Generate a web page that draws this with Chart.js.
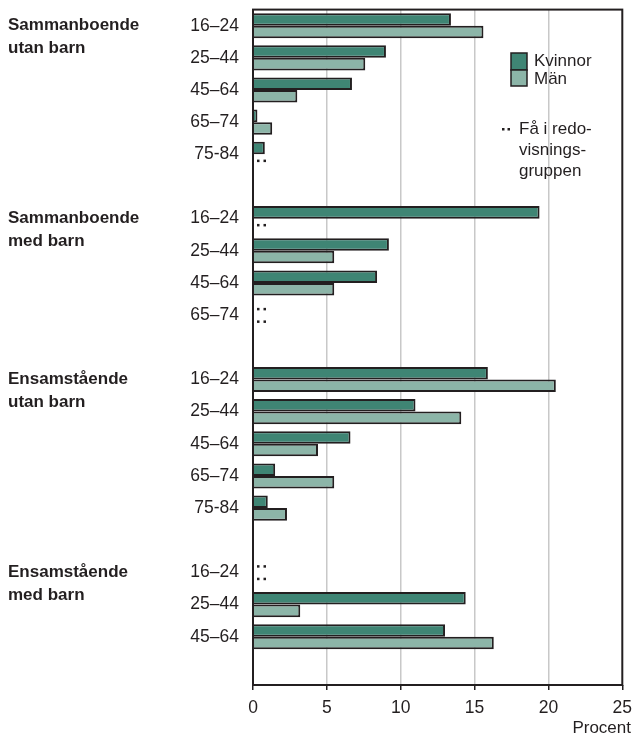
<!DOCTYPE html>
<html>
<head>
<meta charset="utf-8">
<script src="https://cdn.jsdelivr.net/npm/chart.js@4/dist/chart.umd.min.js"></script>
<style>
  body { margin: 0; background: #fff; }
  #wrap { width: 635px; height: 735px; position: relative; }
</style>
</head>
<body>
<div id="wrap"><canvas id="chart"></canvas></div>
<script>
// rows of the chart, top to bottom ('' = spacer row between groups)
const ageLabels = ['16–24', '25–44', '45–64', '65–74', '75-84', '',
  '16–24', '25–44', '45–64', '65–74', '',
  '16–24', '25–44', '45–64', '65–74', '75-84', '',
  '16–24', '25–44', '45–64', ''];

const groupNames = [
  ['Sammanboende', 'utan barn'],
  ['Sammanboende', 'med barn'],
  ['Ensamstående', 'utan barn'],
  ['Ensamstående', 'med barn']
];

// percent, null = "Få i redovisningsgruppen"
const kvinnor = [13.4, 9.0, 6.7, 0.3, 0.8, null,
  19.4, 9.2, 8.4, null, null,
  15.9, 11.0, 6.6, 1.5, 1.0, null,
  null, 14.4, 13.0, null];
const man = [15.6, 7.6, 3.0, 1.3, null, null,
  null, 5.5, 5.5, null, null,
  20.5, 14.1, 4.4, 5.5, 2.3, null,
  null, 3.2, 16.3, null];

const xTicks = [0, 5, 10, 15, 20, 25];

const FONT = "'Liberation Sans', Arial, Helvetica, sans-serif";
const INK = '#231f20';

// first row of each group
const groupStarts = ageLabels.map((l, i) => l === '16–24' ? i : -1).filter(i => i >= 0);

const extras = {
  id: 'extras',
  afterDatasetsDraw(chart) {
    const ctx = chart.ctx;
    const area = chart.chartArea;
    const x = chart.scales.x;
    const y = chart.scales.y;
    const x0 = x.getPixelForValue(0);

    ctx.save();
    // frame round the plot
    ctx.strokeStyle = INK;
    ctx.lineWidth = 2;
    ctx.strokeRect(area.left, area.top, area.right - area.left, area.bottom - area.top);

    // ".." for too few in the group
    ctx.fillStyle = INK;
    chart.data.datasets.forEach((ds, di) => {
      const meta = chart.getDatasetMeta(di);
      ds.data.forEach((v, i) => {
        if (v !== null || ageLabels[i] === '') return;
        const cy = meta.data[i].y;
        ctx.fillRect(x0 + 4, cy - 1, 2.5, 2.5);
        ctx.fillRect(x0 + 10.5, cy - 1, 2.5, 2.5);
      });
    });

    // group names on the left
    ctx.font = 'bold 17px ' + FONT;
    ctx.textAlign = 'left';
    ctx.textBaseline = 'middle';
    groupNames.forEach((lines, g) => {
      const cy = y.getPixelForValue(groupStarts[g]);
      lines.forEach((t, li) => ctx.fillText(t, 8, cy + li * 23));
    });

    // legend
    const ds = chart.data.datasets;
    ctx.lineWidth = 1.5;
    ctx.strokeStyle = INK;
    ctx.fillStyle = ds[0].backgroundColor;
    ctx.fillRect(511, 53, 16, 17);
    ctx.strokeRect(511, 53, 16, 17);
    ctx.fillStyle = ds[1].backgroundColor;
    ctx.fillRect(511, 70, 16, 16);
    ctx.strokeRect(511, 70, 16, 16);
    ctx.fillStyle = INK;
    ctx.font = '17px ' + FONT;
    ctx.fillText(ds[0].label, 534, 61);
    ctx.fillText(ds[1].label, 534, 79);

    ctx.fillRect(502, 128, 2.5, 2.5);
    ctx.fillRect(507.5, 128, 2.5, 2.5);
    ctx.fillText('Få i redo-', 519, 129);
    ctx.fillText('visnings-', 519, 150);
    ctx.fillText('gruppen', 519, 171);

    // axis unit
    ctx.textAlign = 'right';
    ctx.fillText('Procent', 631, 728);
    ctx.restore();
  }
};

new Chart(document.getElementById('chart'), {
  type: 'bar',
  data: {
    labels: ageLabels,
    datasets: [
      {
        label: 'Kvinnor',
        data: kvinnor,
        backgroundColor: '#3f8574',
        borderColor: INK,
        borderWidth: 2,
        borderSkipped: 'start',
        categoryPercentage: 0.78,
        barPercentage: 1
      },
      {
        label: 'Män',
        data: man,
        backgroundColor: '#8cb5a8',
        borderColor: INK,
        borderWidth: 2,
        borderSkipped: 'start',
        categoryPercentage: 0.78,
        barPercentage: 1
      }
    ]
  },
  options: {
    indexAxis: 'y',
    responsive: true,
    maintainAspectRatio: false,
    animation: false,
    layout: { padding: { top: 9.6, right: 12.7, bottom: 0, left: 0 } },
    plugins: {
      legend: { display: false },
      tooltip: { enabled: false }
    },
    scales: {
      x: {
        min: 0,
        max: 25,
        afterBuildTicks: s => { s.ticks = xTicks.map(v => ({ value: v })); },
        afterFit: s => { s.height = 50; s.paddingLeft = 0; s.paddingRight = 0; },
        grid: {
          color: c => (c.tick && (c.tick.value === 0 || c.tick.value === 25)) ? 'rgba(0,0,0,0)' : '#c8c8c8',
          lineWidth: 1.5,
          tickColor: INK,
          tickLength: 5,
          tickWidth: 1.5
        },
        border: { display: false },
        ticks: {
          color: INK,
          font: { family: FONT, size: 17.5 },
          padding: 8,
          maxRotation: 0
        }
      },
      y: {
        afterFit: s => { s.width = 253; s.paddingTop = 0; s.paddingBottom = 0; },
        grid: { display: false, drawTicks: false },
        border: { display: false },
        ticks: {
          color: INK,
          font: { family: FONT, size: 17.5 },
          padding: 14,
          autoSkip: false
        }
      }
    }
  },
  plugins: [extras]
});
</script>
</body>
</html>
